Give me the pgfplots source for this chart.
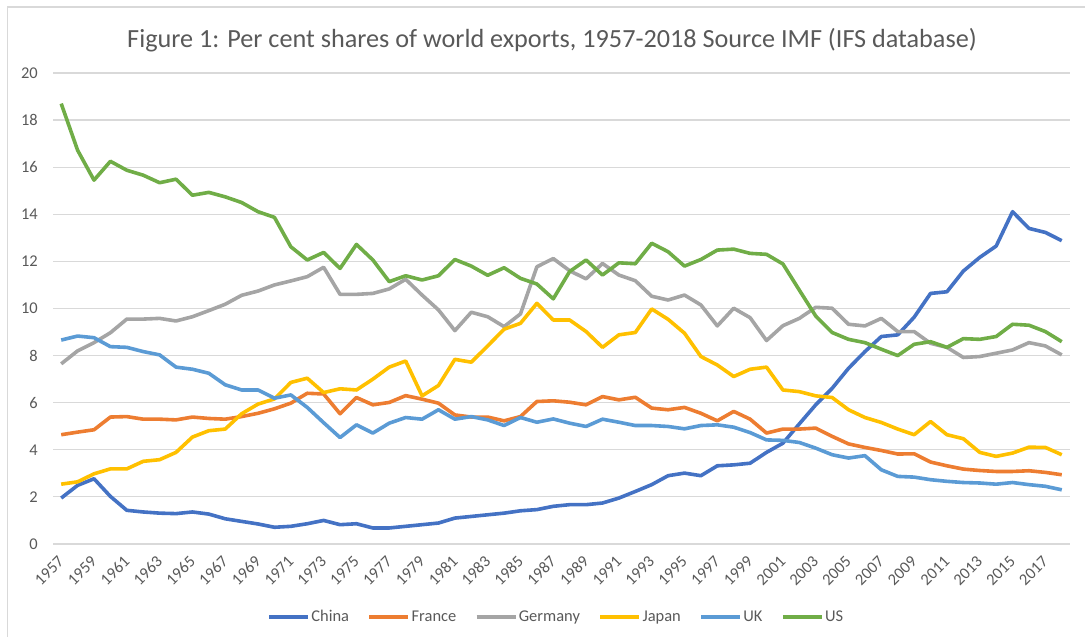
\documentclass[border=0pt]{standalone}
\usepackage{pgfplots}
\usepackage{pgfplotstable}
\pgfplotsset{compat=1.18}
\usepackage{fontspec}
\setmainfont{Carlito}
\definecolor{cChina}{HTML}{4472C4}
\definecolor{cFrance}{HTML}{ED7D31}
\definecolor{cGermany}{HTML}{A5A5A5}
\definecolor{cJapan}{HTML}{FFC000}
\definecolor{cUK}{HTML}{5B9BD5}
\definecolor{cUS}{HTML}{70AD47}
\definecolor{txt}{HTML}{595959}
\definecolor{gridc}{HTML}{D9D9D9}
\pgfplotstableread{
year China France Germany Japan UK US
1957 1.95 4.64 7.65 2.54 8.66 18.70
1958 2.49 4.75 8.20 2.64 8.83 16.72
1959 2.77 4.85 8.55 2.98 8.76 15.45
1960 2.02 5.39 8.97 3.19 8.38 16.25
1961 1.43 5.41 9.55 3.19 8.35 15.87
1962 1.36 5.30 9.55 3.51 8.17 15.66
1963 1.31 5.30 9.58 3.58 8.03 15.34
1964 1.29 5.27 9.47 3.89 7.51 15.49
1965 1.36 5.39 9.65 4.54 7.42 14.81
1966 1.27 5.33 9.91 4.81 7.25 14.93
1967 1.07 5.30 10.18 4.88 6.76 14.74
1968 0.96 5.41 10.56 5.53 6.54 14.50
1969 0.85 5.55 10.74 5.94 6.54 14.11
1970 0.71 5.74 11.00 6.16 6.19 13.87
1971 0.75 5.98 11.17 6.86 6.33 12.62
1972 0.86 6.40 11.35 7.04 5.80 12.06
1973 1.00 6.37 11.75 6.43 5.15 12.38
1974 0.82 5.53 10.60 6.59 4.52 11.70
1975 0.86 6.22 10.60 6.54 5.06 12.72
1976 0.68 5.91 10.64 7.00 4.71 12.06
1977 0.68 6.01 10.83 7.51 5.13 11.14
1978 0.75 6.30 11.24 7.77 5.37 11.39
1979 0.82 6.15 10.57 6.29 5.30 11.21
1980 0.89 5.98 9.94 6.73 5.70 11.39
1981 1.10 5.48 9.06 7.84 5.30 12.08
1982 1.17 5.39 9.84 7.72 5.41 11.80
1983 1.24 5.39 9.65 8.41 5.27 11.41
1984 1.31 5.23 9.23 9.12 5.03 11.73
1985 1.41 5.41 9.77 9.37 5.37 11.28
1986 1.46 6.05 11.77 10.22 5.17 11.04
1987 1.60 6.08 12.12 9.51 5.31 10.41
1988 1.67 6.02 11.60 9.51 5.13 11.57
1989 1.67 5.91 11.26 9.02 4.99 12.06
1990 1.74 6.26 11.91 8.35 5.30 11.42
1991 1.95 6.12 11.42 8.88 5.17 11.94
1992 2.23 6.23 11.18 8.98 5.03 11.90
1993 2.52 5.77 10.52 9.98 5.03 12.77
1994 2.90 5.70 10.36 9.54 4.99 12.41
1995 3.01 5.80 10.57 8.95 4.89 11.80
1996 2.90 5.55 10.15 7.96 5.03 12.08
1997 3.32 5.23 9.26 7.60 5.06 12.48
1998 3.36 5.63 10.01 7.11 4.96 12.52
1999 3.43 5.30 9.61 7.42 4.73 12.34
2000 3.89 4.71 8.64 7.51 4.42 12.30
2001 4.28 4.88 9.27 6.54 4.40 11.89
2002 5.10 4.88 9.58 6.47 4.31 10.78
2003 5.91 4.92 10.05 6.29 4.07 9.68
2004 6.61 4.57 10.01 6.22 3.79 8.98
2005 7.46 4.25 9.33 5.70 3.65 8.69
2006 8.17 4.10 9.26 5.37 3.75 8.55
2007 8.81 3.97 9.58 5.16 3.15 8.27
2008 8.88 3.82 9.02 4.88 2.87 8.00
2009 9.63 3.83 9.02 4.64 2.84 8.48
2010 10.64 3.48 8.52 5.20 2.73 8.59
2011 10.71 3.32 8.35 4.64 2.66 8.35
2012 11.59 3.18 7.92 4.47 2.61 8.72
2013 12.17 3.12 7.96 3.89 2.59 8.69
2014 12.65 3.08 8.10 3.72 2.54 8.81
2015 14.11 3.08 8.24 3.86 2.61 9.33
2016 13.40 3.11 8.55 4.11 2.52 9.29
2017 13.23 3.04 8.41 4.10 2.45 9.02
2018 12.88 2.94 8.03 3.79 2.30 8.59
}\datatable
\begin{document}
\begin{tikzpicture}[x=1bp,y=1bp]
\useasboundingbox (0,0) rectangle (1085,637);
\draw[gridc, line width=1.2bp] (7.5,0) -- (7.5,630) -- (1085,630);
\node[txt, font=\fontsize{26.3}{26.3}\selectfont] at (552,597) {Figure 1: Per cent shares of world exports, 1957-2018 Source IMF (IFS database)};
\begin{axis}[
  at={(53bp,93bp)}, anchor=south west,
  scale only axis, width=1017bp, height=471bp,
  xmin=1956.5, xmax=2018.5, ymin=0, ymax=20,
  axis line style={draw=none},
  xtick={1957,1959,...,2017},
  ytick={0,2,...,20},
  minor xtick={}, minor ytick={},
  xticklabel={\pgfmathprintnumber[1000 sep={}]{\tick}},
  xmajorgrids=false, xminorgrids=false,
  ymajorgrids, major grid style={draw=gridc, line width=1.2bp},
  major tick length=0pt, minor tick length=0pt,
  /pgf/number format/assume math mode=true,
  tick label style={txt, font=\fontsize{16.5}{16.5}\selectfont},
  xticklabel style={inner sep=0pt, yshift=-15bp, rotate=45, anchor=east},
  yticklabel style={inner sep=0pt, xshift=-15bp, anchor=east},
  every axis plot/.append style={line width=3.6bp, line join=round, no markers},
  legend columns=-1,
  legend style={at={(0.4946,-0.155)}, anchor=center, draw=none, fill=none,
    font=\fontsize{16.5}{16.5}\selectfont, text=txt,
    /tikz/every even column/.append style={column sep=17bp},
    nodes={inner sep=1.5bp}},
  legend image code/.code={\draw[#1, line width=3.6bp] (0bp,0bp) -- (39bp,0bp);},
]
\addplot[cChina] table[x=year,y=China]{\datatable};
\addlegendentry{China}
\addplot[cFrance] table[x=year,y=France]{\datatable};
\addlegendentry{France}
\addplot[cGermany] table[x=year,y=Germany]{\datatable};
\addlegendentry{Germany}
\addplot[cJapan] table[x=year,y=Japan]{\datatable};
\addlegendentry{Japan}
\addplot[cUK] table[x=year,y=UK]{\datatable};
\addlegendentry{UK}
\addplot[cUS] table[x=year,y=US]{\datatable};
\addlegendentry{US}
\end{axis}
\end{tikzpicture}
\end{document}
